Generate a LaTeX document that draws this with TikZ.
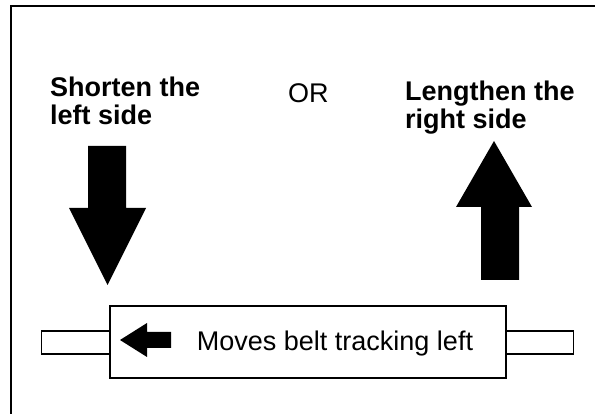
\documentclass[tikz,border=0pt]{standalone}
\usepackage{fontspec}
\setmainfont{Liberation Sans}
\begin{document}
\begin{tikzpicture}[x=1pt, y=-1pt, lbl/.style={font=\fontsize{27}{28}\selectfont, inner sep=0pt, align=left}, bold/.style={lbl, font=\fontsize{27}{28}\selectfont\bfseries}, roll/.style={draw, line width=1.3pt, fill=white, inner sep=0pt}]
\useasboundingbox (0,0) rectangle (595,414);
\draw[line width=1.8pt] (11,414) -- (11,6) -- (595,6);
\node[bold, anchor=base west] (shorten) at (50,125) {Shorten the\\left side};
\node[lbl, anchor=base west] (or) at (288,103) {OR};
\node[bold, anchor=base west] (lengthen) at (405,129) {Lengthen the\\right side};
\fill (88,146) -- (126,146) -- (126,208) -- (146,208) -- (107.5,285) -- (69,208) -- (88,208) -- cycle;
\fill (481,280) -- (519,280) -- (519,207) -- (532,207) -- (494,141) -- (456,207) -- (481,207) -- cycle;
\node[roll, minimum width=68, minimum height=23, anchor=east] (lstub) at (110,342.5) {};
\node[roll, minimum width=67, minimum height=23, anchor=west] (rstub) at (506,342.5) {};
\node[roll, minimum width=396, minimum height=72] (drum) at (308,342) {};
\node[lbl, anchor=base] (belt) at (335,351) {Moves belt tracking left};
\fill (120,340) -- (147,323) -- (147,332) -- (171,332) -- (171,348) -- (147,348) -- (147,357) -- cycle;
\end{tikzpicture}
\end{document}
